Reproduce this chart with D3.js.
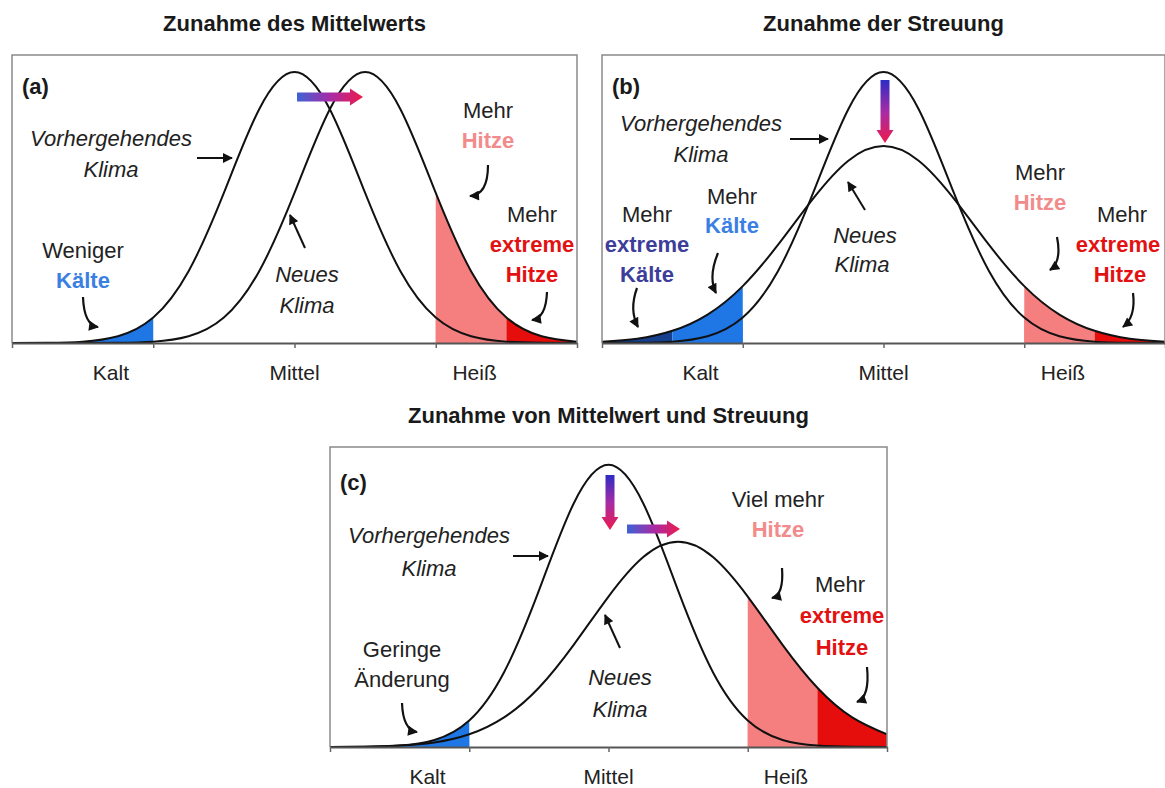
<!DOCTYPE html>
<html>
<head>
<meta charset="utf-8">
<script src="https://cdn.jsdelivr.net/npm/d3@7"></script>
<style>
  body { margin: 0; background: #fff; }
  svg text { font-family: "Liberation Sans", Arial, sans-serif; }
</style>
</head>
<body>
<svg id="chart" width="1165" height="788"></svg>
<script>
/* global d3 */

// sample positions along the temperature axis (0 = Mittel)
var xs = [-4, -3.5, -3, -2.5, -2, -1.5, -1, -0.5, 0, 0.5, 1, 1.5, 2, 2.5, 3, 3.5, 4];

// curve heights (1 = peak of the previous climate)
var prevClimate     = [0, 0.001, 0.005, 0.025, 0.094, 0.265, 0.554, 0.863, 1, 0.863, 0.554, 0.265, 0.094, 0.025, 0.005, 0.001, 0];
var newShifted      = [0, 0, 0, 0.001, 0.005, 0.025, 0.094, 0.265, 0.554, 0.863, 1, 0.863, 0.554, 0.265, 0.094, 0.025, 0.005];
var newWider        = [0.005, 0.016, 0.045, 0.105, 0.21, 0.362, 0.533, 0.673, 0.727, 0.673, 0.533, 0.362, 0.21, 0.105, 0.045, 0.016, 0.005];
var newShiftedWider = [0, 0.001, 0.005, 0.016, 0.045, 0.105, 0.21, 0.362, 0.533, 0.673, 0.727, 0.673, 0.533, 0.362, 0.21, 0.105, 0.045];

var titles = ["Zunahme des Mittelwerts", "Zunahme der Streuung", "Zunahme von Mittelwert und Streuung"];
var panelTags = ["(a)", "(b)", "(c)"];
var tickLabels = ["Kalt", "Mittel", "Heiß"];
var tickValues = [-4, -2, 0, 2, 4];

// shaded tails: [from, to, kind]
var bandsA = [[-4, -2, "cold"], [2, 3, "hot"], [3, 4, "xhot"]];
var bandsB = [[-4, -3, "xcold"], [-3, -2, "cold"], [2, 3, "hot"], [3, 4, "xhot"]];
var bandsC = [[-4, -2, "cold"], [2, 3, "hot"], [3, 4, "xhot"]];

var fillColor = {cold: "#1f77e6", xcold: "#16408e", hot: "#f57e7e", xhot: "#e60d0d"};
var textColor = {"": "#222", it: "#222", cold: "#3b7fe3", xcold: "#3d3d9a", hot: "#f28b8b", xhot: "#e31212"};

var labelPos = [-2.6, 0, 2.55];
var yMax = 1.063;

// annotation layout, pixels relative to the panel box
var panels = [
  {
    box: [12, 55, 565, 288], title: titles[0], tag: panelTags[0],
    prev: prevClimate, next: newShifted, bands: bandsA,
    texts: [["Vorhergehendes", 99, 91, "it"], ["Klima", 99, 122, "it"],
            ["Weniger", 71, 203, ""], ["Kälte", 71, 233, "cold"],
            ["Neues", 295, 227, "it"], ["Klima", 295, 258, "it"],
            ["Mehr", 476, 63, ""], ["Hitze", 476, 93, "hot"],
            ["Mehr", 520, 167, ""], ["extreme", 520, 197, "xhot"], ["Hitze", 520, 227, "xhot"]],
    straight: [[185, 103, 220, 103], [293, 193, 278, 160]],
    curved: [[71, 242, 72, 270, 86, 272], [476, 110, 476, 140, 458, 141], [535, 237, 534, 263, 520, 265]],
    grad: [[285, 42, 351, 42]]
  },
  {
    box: [602, 55, 563, 288], title: titles[1], tag: panelTags[1],
    prev: prevClimate, next: newWider, bands: bandsB,
    texts: [["Vorhergehendes", 99, 76, "it"], ["Klima", 99, 107, "it"],
            ["Mehr", 130, 149, ""], ["Kälte", 130, 178, "cold"],
            ["Mehr", 45, 167, ""], ["extreme", 45, 197, "xcold"], ["Kälte", 45, 227, "xcold"],
            ["Neues", 263, 188, "it"], ["Klima", 260, 217, "it"],
            ["Mehr", 438, 125, ""], ["Hitze", 438, 155, "hot"],
            ["Mehr", 520, 167, ""], ["extreme", 516, 197, "xhot"], ["Hitze", 518, 227, "xhot"]],
    straight: [[188, 84, 226, 84], [263, 155, 246, 127]],
    curved: [[116, 198, 106, 222, 114, 238], [35, 233, 27, 255, 36, 272], [455, 182, 460, 207, 448, 215], [531, 238, 534, 262, 521, 272]],
    grad: [[283, 25, 283, 88]]
  },
  {
    box: [330, 447, 557, 300], title: titles[2], tag: panelTags[2],
    prev: prevClimate, next: newShiftedWider, bands: bandsC,
    texts: [["Vorhergehendes", 99, 96, "it"], ["Klima", 99, 129, "it"],
            ["Geringe", 72, 210, ""], ["Änderung", 72, 240, ""],
            ["Neues", 290, 238, "it"], ["Klima", 290, 270, "it"],
            ["Viel mehr", 448, 60, ""], ["Hitze", 448, 90, "hot"],
            ["Mehr", 510, 145, ""], ["extreme", 512, 176, "xhot"], ["Hitze", 512, 208, "xhot"]],
    straight: [[183, 109, 218, 109], [290, 201, 275, 168]],
    curved: [[72, 256, 73, 283, 87, 285], [452, 121, 454, 148, 442, 151], [537, 220, 540, 250, 527, 255]],
    grad: [[280, 28, 280, 83], [297, 82, 350, 82]]
  }
];

var svg = d3.select("#chart");
var defs = svg.append("defs");

defs.append("marker")
    .attr("id", "head")
    .attr("viewBox", "0 0 10 10")
    .attr("refX", 9).attr("refY", 5)
    .attr("markerWidth", 11).attr("markerHeight", 10)
    .attr("markerUnits", "userSpaceOnUse")
    .attr("orient", "auto")
  .append("path")
    .attr("d", "M0,0L10,5L0,10z")
    .attr("fill", "#111");

// blue -> red gradients used by the shift arrows
function addGradient(id, from) {
  var gr = defs.append("linearGradient")
      .attr("id", id)
      .attr("x1", 0).attr("y1", 0).attr("x2", 1).attr("y2", 0);
  gr.append("stop").attr("offset", "0%").attr("stop-color", from);
  gr.append("stop").attr("offset", "50%").attr("stop-color", "#a62ca6");
  gr.append("stop").attr("offset", "100%").attr("stop-color", "#ee1a4c");
}
addGradient("shiftH", "#3d62d6");
addGradient("shiftV", "#2c2cc4");

panels.forEach(function(p, i) {
  var left = p.box[0], top = p.box[1], w = p.box[2], h = p.box[3];

  var x = d3.scaleLinear().domain([-4, 4]).range([left, left + w]);
  var y = d3.scaleLinear().domain([0, yMax]).range([top + h, top]);

  var g = svg.append("g").attr("class", "panel");

  svg.append("text")
      .attr("x", left + w / 2)
      .attr("y", top - 24)
      .attr("text-anchor", "middle")
      .attr("font-size", 22)
      .attr("font-weight", "bold")
      .attr("fill", "#1a1a1a")
      .text(p.title);

  var clipId = "box" + i;
  defs.append("clipPath").attr("id", clipId)
    .append("rect").attr("x", left).attr("y", top).attr("width", w).attr("height", h);

  var series = [p.prev, p.next].map(function(vals) {
    return xs.map(function(d, k) { return [d, vals[k]]; });
  });

  var area = d3.area()
      .x(function(d) { return x(d[0]); })
      .y0(y(0))
      .y1(function(d) { return y(d[1]); })
      .curve(d3.curveNatural);

  var line = d3.line()
      .x(function(d) { return x(d[0]); })
      .y(function(d) { return y(d[1]); })
      .curve(d3.curveNatural);

  // tails: filled under both curves, so the union follows the upper one
  p.bands.forEach(function(b, j) {
    var bandId = "band" + i + "_" + j;
    defs.append("clipPath").attr("id", bandId)
      .append("rect")
        .attr("x", x(b[0])).attr("y", top)
        .attr("width", x(b[1]) - x(b[0])).attr("height", h);
    g.append("g")
        .attr("clip-path", "url(#" + bandId + ")")
      .selectAll("path")
      .data(series)
      .enter().append("path")
        .attr("d", area)
        .attr("fill", fillColor[b[2]]);
  });

  g.append("g")
      .attr("clip-path", "url(#" + clipId + ")")
    .selectAll("path.curve")
    .data(series)
    .enter().append("path")
      .attr("class", "curve")
      .attr("d", line)
      .attr("fill", "none")
      .attr("stroke", "#111")
      .attr("stroke-width", 2);

  // frame (left, top, right) and axis
  g.append("path")
      .attr("d", "M" + left + "," + (top + h) + "V" + top + "H" + (left + w) + "V" + (top + h))
      .attr("fill", "none")
      .attr("stroke", "#8a8a8a")
      .attr("stroke-width", 1.5);

  var axis = g.append("g")
      .attr("transform", "translate(0," + (top + h) + ")")
      .call(d3.axisBottom(x).tickValues(tickValues).tickFormat("").tickSize(5).tickSizeOuter(0));
  axis.select(".domain").attr("stroke", "#555").attr("stroke-width", 2);
  axis.selectAll(".tick line").attr("stroke", "#666").attr("stroke-width", 1.5);

  g.selectAll("text.cat")
      .data(tickLabels)
    .enter().append("text")
      .attr("class", "cat")
      .attr("x", function(d, k) { return x(labelPos[k]); })
      .attr("y", top + h + 37)
      .attr("text-anchor", "middle")
      .attr("font-size", 21)
      .attr("fill", "#222")
      .text(function(d) { return d; });

  g.append("text")
      .attr("x", left + 10)
      .attr("y", top + (i === 2 ? 43 : 39))
      .attr("font-size", 22)
      .attr("font-weight", "bold")
      .attr("fill", "#1a1a1a")
      .text(p.tag);

  g.selectAll("text.note")
      .data(p.texts)
    .enter().append("text")
      .attr("class", "note")
      .attr("x", function(d) { return left + d[1]; })
      .attr("y", function(d) { return top + d[2]; })
      .attr("text-anchor", "middle")
      .attr("font-size", 22)
      .attr("font-style", function(d) { return d[3] === "it" ? "italic" : "normal"; })
      .attr("font-weight", function(d) { return d[3] === "" || d[3] === "it" ? "normal" : "bold"; })
      .attr("fill", function(d) { return textColor[d[3]]; })
      .text(function(d) { return d[0]; });

  g.selectAll("path.pointer")
      .data(p.straight)
    .enter().append("path")
      .attr("class", "pointer")
      .attr("d", function(d) { return "M" + (left + d[0]) + "," + (top + d[1]) + "L" + (left + d[2]) + "," + (top + d[3]); })
      .attr("fill", "none")
      .attr("stroke", "#111")
      .attr("stroke-width", 2)
      .attr("marker-end", "url(#head)");

  g.selectAll("path.hook")
      .data(p.curved)
    .enter().append("path")
      .attr("class", "hook")
      .attr("d", function(d) {
        return "M" + (left + d[0]) + "," + (top + d[1]) +
               "Q" + (left + d[2]) + "," + (top + d[3]) + " " + (left + d[4]) + "," + (top + d[5]);
      })
      .attr("fill", "none")
      .attr("stroke", "#111")
      .attr("stroke-width", 2.2)
      .attr("marker-end", "url(#head)");

  // gradient shift arrows
  g.selectAll("path.shift")
      .data(p.grad)
    .enter().append("path")
      .attr("class", "shift")
      .attr("transform", function(d) {
        var ang = Math.atan2(d[3] - d[1], d[2] - d[0]) * 180 / Math.PI;
        return "translate(" + (left + d[0]) + "," + (top + d[1]) + ") rotate(" + ang + ")";
      })
      .attr("d", function(d) {
        var L = Math.hypot(d[2] - d[0], d[3] - d[1]), hl = 13;
        return "M0,-4.5H" + (L - hl) + "V-8.5L" + L + ",0L" + (L - hl) + ",8.5V4.5H0Z";
      })
      .attr("fill", function(d) { return d[0] === d[2] ? "url(#shiftV)" : "url(#shiftH)"; });
});
</script>
</body>
</html>
